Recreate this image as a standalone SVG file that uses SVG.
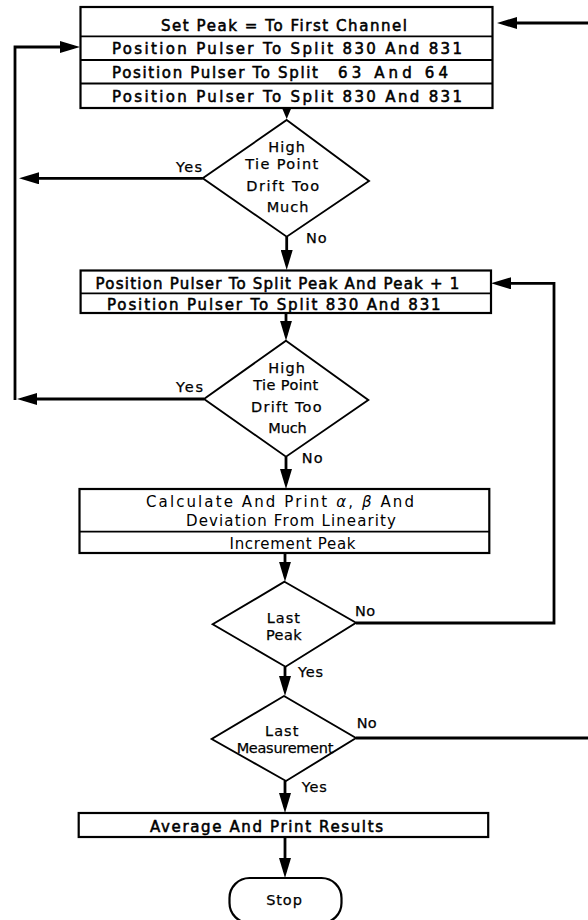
<svg xmlns="http://www.w3.org/2000/svg" width="588" height="920" viewBox="0 0 588 920">
  <style>
    .box { fill: #fff; stroke: #000; stroke-width: 2.2; }
    .div { stroke: #000; stroke-width: 1.8; fill: none; }
    .dia { fill: #fff; stroke: #000; stroke-width: 1.9; }
    .con { fill: none; stroke: #000; stroke-width: 2.8; }
    .t { font-family: "DejaVu Sans", "Liberation Sans", sans-serif; font-size: 15px; fill: #000; }
    .tb { stroke: #000; stroke-width: 0.55; }
    .d { font-family: "DejaVu Sans", "Liberation Sans", sans-serif; font-size: 14.5px; fill: #000; stroke: #000; stroke-width: 0.25; text-anchor: middle; }
    .lbl { font-family: "DejaVu Sans", "Liberation Sans", sans-serif; font-size: 14.5px; fill: #000; stroke: #000; stroke-width: 0.25; }
  </style>
  <defs>
    <marker id="ah" markerUnits="userSpaceOnUse" markerWidth="20" markerHeight="12" refX="14" refY="6" orient="auto">
      <path d="M0,0 L20,6 L0,12 z" fill="#000"/>
    </marker>
    <marker id="ahs" markerUnits="userSpaceOnUse" markerWidth="13" markerHeight="11" refX="7" refY="5.5" orient="auto">
      <path d="M0,0 L13,5.5 L0,11 z" fill="#000"/>
    </marker>
  </defs>

  <!-- connectors -->
  <g id="connectors">
    <path class="con" d="M15,400 V47 H74" marker-end="url(#ah)"/>
    <path class="con" d="M202.7,178.3 H25" marker-end="url(#ah)"/>
    <path class="con" d="M204,399 H23" marker-end="url(#ah)"/>
    <path class="con" d="M588,23 H503" marker-end="url(#ah)"/>
    <path class="con" d="M356,623 H554 V283.3 H497" marker-end="url(#ah)"/>
    <path class="con" d="M356,738 H588"/>
    <path class="con" d="M286.7,108 V113" marker-end="url(#ahs)"/>
    <path class="con" d="M286.7,236.7 V264" marker-end="url(#ah)"/>
    <path class="con" d="M286,313 V334.7" marker-end="url(#ah)"/>
    <path class="con" d="M286,456.7 V483" marker-end="url(#ah)"/>
    <path class="con" d="M285,553 V575.7" marker-end="url(#ah)"/>
    <path class="con" d="M285,666.7 V690" marker-end="url(#ah)"/>
    <path class="con" d="M285,781 V807" marker-end="url(#ah)"/>
    <path class="con" d="M285,837 V872" marker-end="url(#ah)"/>
  </g>

  <!-- initial set-up block -->
  <g id="setup">
    <rect class="box" x="80.5" y="7" width="412" height="101"/>
    <path class="div" d="M80.5,36.4 H492.5 M80.5,60 H492.5 M80.5,83.5 H492.5"/>
    <text class="t tb" x="161" y="30.5" textLength="246" lengthAdjust="spacing">Set Peak = To First Channel</text>
    <text class="t tb" x="112" y="54.4" textLength="350" lengthAdjust="spacing">Position Pulser To Split 830 And 831</text>
    <text class="t tb" x="112" y="78" textLength="206" lengthAdjust="spacing">Position Pulser To Split</text>
    <text class="t tb" x="338" y="78" textLength="110" lengthAdjust="spacing">63 And 64</text>
    <text class="t tb" x="112" y="102" textLength="350" lengthAdjust="spacing">Position Pulser To Split 830 And 831</text>
  </g>

  <!-- first drift test -->
  <g id="drift1">
    <polygon class="dia" points="286.7,120 369,181 286.7,236.7 202.7,178.3"/>
    <text class="d" x="286.7" y="151.7" textLength="36.7" lengthAdjust="spacing">High</text>
    <text class="d" x="281.7" y="169.3" textLength="73" lengthAdjust="spacing">Tie Point</text>
    <text class="d" x="282.7" y="191" textLength="73" lengthAdjust="spacing">Drift Too</text>
    <text class="d" x="287.5" y="211.7" textLength="41.7" lengthAdjust="spacing">Much</text>
    <text class="lbl" x="176" y="171.5" textLength="26" lengthAdjust="spacing">Yes</text>
    <text class="lbl" x="306" y="242.7" textLength="20.7" lengthAdjust="spacing">No</text>
  </g>

  <!-- peak split block -->
  <g id="peaksplit">
    <rect class="box" x="80.6" y="270.5" width="410.4" height="42.5"/>
    <path class="div" d="M80.6,293.3 H491"/>
    <text class="t tb" x="95.6" y="289.3" textLength="363.7" lengthAdjust="spacing">Position Pulser To Split Peak And Peak + 1</text>
    <text class="t tb" x="107" y="310" textLength="333.6" lengthAdjust="spacing">Position Pulser To Split 830 And 831</text>
  </g>

  <!-- second drift test -->
  <g id="drift2">
    <polygon class="dia" points="286,340.7 368.3,400 286,456.7 204,399"/>
    <text class="d" x="286.7" y="373.3" textLength="36.7" lengthAdjust="spacing">High</text>
    <text class="d" x="285.8" y="390" textLength="65" lengthAdjust="spacing">Tie Point</text>
    <text class="d" x="286.3" y="411.7" textLength="70.7" lengthAdjust="spacing">Drift Too</text>
    <text class="d" x="287.5" y="433.3" textLength="38.3" lengthAdjust="spacing">Much</text>
    <text class="lbl" x="176" y="391.7" textLength="27" lengthAdjust="spacing">Yes</text>
    <text class="lbl" x="301.7" y="463.3" textLength="21" lengthAdjust="spacing">No</text>
  </g>

  <!-- calculation block -->
  <g id="calculate">
    <rect class="box" x="79.5" y="489" width="409.8" height="64"/>
    <path class="div" d="M79.5,531.7 H489.3"/>
    <text class="t" x="146" y="507.3" textLength="268" lengthAdjust="spacing">Calculate And Print <tspan font-style="italic">α</tspan>, <tspan font-style="italic">β</tspan> And</text>
    <text class="t" x="186" y="526" textLength="210" lengthAdjust="spacing">Deviation From Linearity</text>
    <text class="t" x="229.5" y="549" textLength="126" lengthAdjust="spacing">Increment Peak</text>
  </g>

  <!-- last peak test -->
  <g id="lastpeak">
    <polygon class="dia" points="284.5,581.7 356,622.7 285.5,666.7 212.7,624.3"/>
    <text class="d" x="283.3" y="623.3" textLength="33.3" lengthAdjust="spacing">Last</text>
    <text class="d" x="283.8" y="640" textLength="35.7" lengthAdjust="spacing">Peak</text>
    <text class="lbl" x="355" y="616" textLength="20" lengthAdjust="spacing">No</text>
    <text class="lbl" x="298" y="677" textLength="25" lengthAdjust="spacing">Yes</text>
  </g>

  <!-- last measurement test -->
  <g id="lastmeasurement">
    <polygon class="dia" points="284,696 356,738 286,781 211.7,739"/>
    <text class="d" x="281.7" y="736" textLength="33.3" lengthAdjust="spacing">Last</text>
    <text class="d" x="285" y="753.3" textLength="96.7" lengthAdjust="spacing">Measurement</text>
    <text class="lbl" x="356.7" y="728" textLength="20" lengthAdjust="spacing">No</text>
    <text class="lbl" x="301.7" y="791.7" textLength="25" lengthAdjust="spacing">Yes</text>
  </g>

  <!-- results block -->
  <g id="results">
    <rect class="box" x="78.7" y="813" width="409.5" height="24"/>
    <text class="t tb" x="150" y="831.7" textLength="233" lengthAdjust="spacing">Average And Print Results</text>
  </g>

  <!-- terminator -->
  <g id="stop">
    <rect class="box" x="229.5" y="878" width="112" height="45" rx="20" ry="20"/>
    <text class="d" x="284" y="905" textLength="35.7" lengthAdjust="spacing" font-size="15">Stop</text>
  </g>
</svg>
